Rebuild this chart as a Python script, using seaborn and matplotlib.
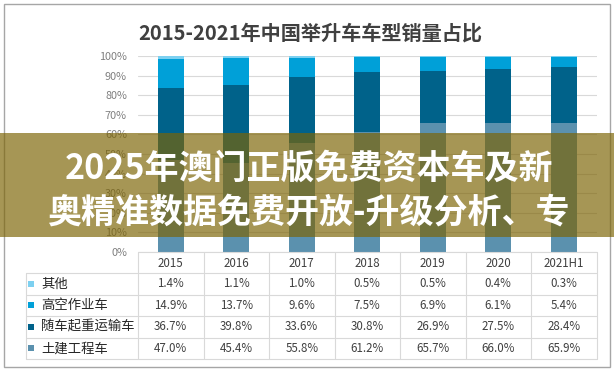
import numpy as np
import pandas as pd
import matplotlib.pyplot as plt
import seaborn as sns
from matplotlib.patches import Rectangle

# chart data (percent)
years = ['2015', '2016', '2017', '2018', '2019', '2020', '2021H1']
series = ['其他', '高空作业车', '随车起重运输车', '土建工程车']
other = [1.4, 1.1, 1.0, 0.5, 0.5, 0.4, 0.3]
aerial = [14.9, 13.7, 9.6, 7.5, 6.9, 6.1, 5.4]
truck_crane = [36.7, 39.8, 33.6, 30.8, 26.9, 27.5, 28.4]
civil = [47.0, 45.4, 55.8, 61.2, 65.7, 66.0, 65.9]
colors = ['#7dd0f0', '#00a0d8', '#00628a', '#5b91ae']

title = '2015-2021年中国举升车车型销量占比'
banner = ['2025年澳门正版免费资本车及新', '奥精准数据免费开放-升级分析、专']

sns.set_theme(style='white')
plt.rcParams['font.family'] = ['Noto Sans CJK SC', 'DejaVu Sans']

df = pd.DataFrame({'year': years, '其他': other, '高空作业车': aerial,
                   '随车起重运输车': truck_crane, '土建工程车': civil})
# cumulative tops, from the bottom series upward
stack = df[series[::-1]].cumsum(axis=1) / 100

W, H = 614, 371
fig = plt.figure(figsize=(W / 100, H / 100), dpi=100)

left, width, bottom, height = 138, 458.5, 119, 196
ax = fig.add_axes([left / W, bottom / H, width / W, height / H])
# draw tallest layer first so each lower layer covers it
for name in series:
    sns.barplot(x=df['year'], y=stack[name], color=colors[series.index(name)],
                width=0.4, saturation=1, linewidth=0, ax=ax)
ax.set_xlim(-0.5, len(years) - 0.5)
ax.set_ylim(0, 1)
ax.set_yticks(np.arange(0, 1.01, 0.1))
ax.set_yticklabels([f'{int(round(v * 100))}%' for v in np.arange(0, 1.01, 0.1)],
                   color='#7f7f7f', fontsize=7.8)
ax.tick_params(axis='y', length=0, pad=8)
ax.tick_params(axis='x', bottom=False, labelbottom=False)
ax.set_xlabel('')
ax.set_ylabel('')
ax.yaxis.grid(True, color='#d9d9d9', lw=0.8)
ax.set_axisbelow(True)
for s in ax.spines.values():
    s.set_visible(False)

# overlay in pixel coords for title, table and banner
ov = fig.add_axes([0, 0, 1, 1], zorder=10)
ov.set_xlim(0, W)
ov.set_ylim(H, 0)
ov.axis('off')
ov.patch.set_alpha(0)

ov.add_patch(Rectangle((4, 4), 606, 363, fill=False, ec='#a6a6a6', lw=1))
ov.text(310, 33, title, fontsize=14.5, weight='bold', color='#404040',
        ha='center', va='center')

# data table
colw = width / len(years)
line_c = '#d9d9d9'
head_top, head_bot = 252, 273
row_h = 21.5
tab_left = 26
tab_right = left + width
ov.plot([left, tab_right], [head_top, head_top], color=line_c, lw=0.8)
for k in range(len(series) + 1):
    y = head_bot + k * row_h
    ov.plot([tab_left, tab_right], [y, y], color=line_c, lw=0.8)
tab_bot = head_bot + len(series) * row_h
ov.plot([tab_left, tab_left], [head_bot, tab_bot], color=line_c, lw=0.8)
for k in range(len(years) + 1):
    x = left + k * colw
    ov.plot([x, x], [head_top, tab_bot], color=line_c, lw=0.8)

for i, yr in enumerate(years):
    ov.text(left + (i + 0.5) * colw, (head_top + head_bot) / 2 + 1, yr,
            fontsize=8.3, color='#404040', ha='center', va='center')

values = [other, aerial, truck_crane, civil]
for r, name in enumerate(series):
    yc = head_bot + (r + 0.5) * row_h
    ov.add_patch(Rectangle((28, yc - 3), 6, 6, color=colors[r], lw=0))
    ov.text(41, yc, name, fontsize=9.6, color='#262626', ha='left', va='center')
    for i, v in enumerate(values[r]):
        ov.text(left + (i + 0.5) * colw, yc, f'{v:.1f}%', fontsize=8.3,
                color='#404040', ha='center', va='center')

# translucent banner across the chart
ov.add_patch(Rectangle((0, 133), W, 104, color=(124 / 255, 100 / 255, 5 / 255),
                       alpha=0.68, lw=0, zorder=5))
ov.text(309, 168, banner[0], fontsize=24.5, weight='bold', color='white',
        ha='center', va='center', zorder=6)
ov.text(308, 212, banner[1], fontsize=24.5, weight='bold', color='white',
        ha='center', va='center', zorder=6)

fig.savefig('out.png', dpi=100)
